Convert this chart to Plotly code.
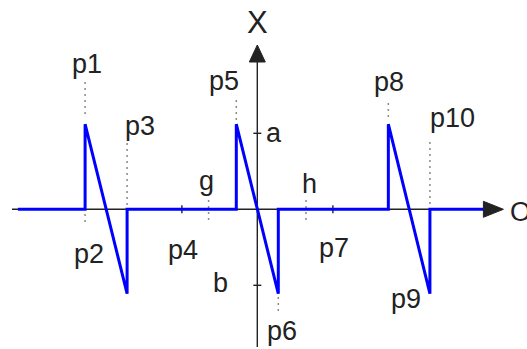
import plotly.graph_objects as go

# ---- signal data (time in arbitrary units, amplitude in units of "a") ----
jump_t = [-8.2, -1.0, 6.24]        # upward jumps: p1, p5, p8
ramp_end_t = [-6.2, 1.0, 8.22]     # ends of the falling ramps: p3, p6, p10
peak_level = 1.12
trough_level = -1.11
t_start, t_end = -11.4, 10.84

tick_t = [-3.59, 3.6]              # p4, p7 on the time axis
a_level, b_level = 1.0, -1.0       # marked amplitudes on the X axis
g_t, h_t = -2.32, 2.32

# ---- scales: pixels per unit on each axis, and the window ----
W, H = 527, 349
PX_T, PX_A = 21.0, 76.0
X0_PX, Y0_PX = 257.3, 209.3        # where the origin sits in the window
x_range = [-X0_PX / PX_T, (W - X0_PX) / PX_T]
y_range = [(Y0_PX - H) / PX_A, Y0_PX / PX_A]


def ux(px):
    return px / PX_T


def uy(px):
    return px / PX_A


# axis extents
t_axis_min, t_axis_max = x_range[0] + ux(12), ux(503.4 - X0_PX)
v_axis_min, v_axis_max = uy(Y0_PX - 347), uy(Y0_PX - 45)

# ---- waveform polyline ----
xs, ys = [t_start], [0.0]
for tj, te in zip(jump_t, ramp_end_t):
    xs += [tj, tj, te, te]
    ys += [0.0, peak_level, trough_level, 0.0]
xs.append(t_end)
ys.append(0.0)

fig = go.Figure()
fig.add_trace(go.Scatter(x=xs, y=ys, mode="lines",
                         line=dict(color="#0000ff", width=3),
                         hoverinfo="skip", showlegend=False))

AX = "#222222"
shapes = []
# axes
shapes.append(dict(type="line", x0=t_axis_min, x1=t_axis_max - ux(6), y0=0, y1=0,
                   line=dict(color=AX, width=1.4), layer="below"))
shapes.append(dict(type="line", x0=0, x1=0, y0=v_axis_min, y1=v_axis_max - uy(6),
                   line=dict(color=AX, width=1.4), layer="below"))
# arrowheads
shapes.append(dict(type="path",
                   path=f"M {t_axis_max} 0 L {t_axis_max - ux(20)} {uy(8)} "
                        f"L {t_axis_max - ux(20)} {-uy(8)} Z",
                   fillcolor=AX, line=dict(color=AX, width=1), layer="above"))
shapes.append(dict(type="path",
                   path=f"M 0 {v_axis_max} L {ux(8)} {v_axis_max - uy(17)} "
                        f"L {-ux(8)} {v_axis_max - uy(17)} Z",
                   fillcolor=AX, line=dict(color=AX, width=1), layer="above"))
# tick marks
for t in tick_t:
    shapes.append(dict(type="line", x0=t, x1=t, y0=-uy(4), y1=uy(4),
                       line=dict(color=AX, width=1.4), layer="below"))
for v in (a_level, b_level):
    shapes.append(dict(type="line", x0=-ux(4), x1=ux(4), y0=v, y1=v,
                       line=dict(color=AX, width=1.4), layer="below"))

# dotted guides: (time, top offset px, bottom offset px) relative to axis line
GUIDE = dict(color="#8a8a8a", width=1.5, dash="2px,4px")
guides = [
    (jump_t[0], 127.3, 92.3),
    (jump_t[0], -4.7, -13.7),
    (ramp_end_t[0], 66.3, 3.3),
    (jump_t[1], 109.3, 89.3),
    (ramp_end_t[1], -87.7, -102.7),
    (jump_t[2], 106.3, 89.3),
    (ramp_end_t[2], 67.3, 3.3),
    (g_t, 9.3, -13.7),
    (h_t, 9.3, -13.7),
]
for t, top, bot in guides:
    shapes.append(dict(type="line", x0=t, x1=t, y0=uy(top), y1=uy(bot),
                       line=GUIDE, layer="below"))

# ---- labels: (text, anchor t, anchor value, x shift px, y shift px) ----
labels = [
    ("p1", jump_t[0], peak_level, 2, 60.6),
    ("p2", jump_t[0], 0, 4, -44.3),
    ("p3", ramp_end_t[0], 0, 13, 83.7),
    ("p4", tick_t[0], 0, 1, -40.3),
    ("p5", jump_t[1], peak_level, -12.8, 43.6),
    ("p6", ramp_end_t[1], trough_level, 3.7, -36.9),
    ("p7", tick_t[1], 0, 0.6, -38.3),
    ("p8", jump_t[2], peak_level, 0.7, 42.6),
    ("p9", ramp_end_t[2], trough_level, -23.9, -4.9),
    ("p10", ramp_end_t[2], 0, 22.1, 91.7),
    ("a", 0, a_level, 16.7, 0.7),
    ("b", 0, b_level, -36.8, 2.7),
    ("g", g_t, 0, -2.1, 28.7),
    ("h", h_t, 0, 3.5, 25.7),
]
FONT = "Liberation Sans, Arial, sans-serif"
annotations = []
for text, t, v, sx, sy in labels:
    annotations.append(dict(text=text, x=t, y=v, xref="x", yref="y",
                            xshift=sx, yshift=sy, showarrow=False,
                            xanchor="center", yanchor="middle",
                            font=dict(family=FONT, size=27, color="#222222")))
annotations.append(dict(text="X", x=0, y=v_axis_max, xref="x", yref="y",
                        xshift=0.2, yshift=22.7, showarrow=False,
                        xanchor="center", yanchor="middle",
                        font=dict(family=FONT, size=31, color="#222222")))
annotations.append(dict(text="O", x=t_axis_max, y=0, xref="x", yref="y",
                        xshift=5, yshift=-2.3, showarrow=False,
                        xanchor="left", yanchor="middle",
                        font=dict(family=FONT, size=27, color="#222222")))

fig.update_layout(
    width=W, height=H,
    margin=dict(l=0, r=0, t=0, b=0, pad=0),
    paper_bgcolor="white", plot_bgcolor="white",
    xaxis=dict(range=x_range, visible=False, fixedrange=True),
    yaxis=dict(range=y_range, visible=False, fixedrange=True),
    shapes=shapes, annotations=annotations,
    showlegend=False,
)

fig.write_html("out.html")
